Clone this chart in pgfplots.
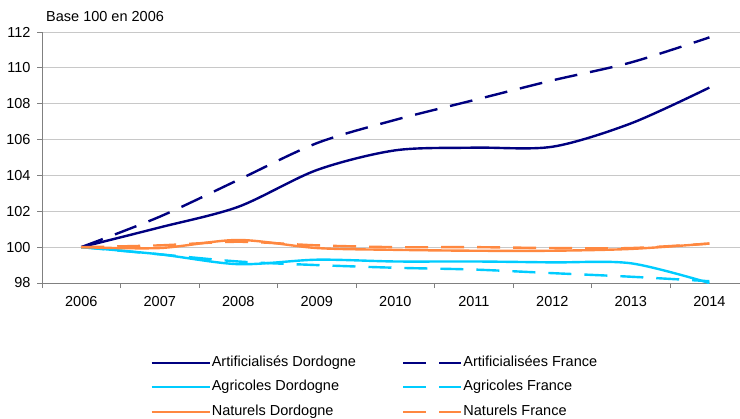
\documentclass[border=0pt]{standalone}
\usepackage{fontspec}
\setmainfont{Liberation Sans}
\usepackage{pgfplots}
\pgfplotsset{compat=1.18}
\definecolor{Navy}{RGB}{0,0,128}
\definecolor{Ciel}{RGB}{0,204,255}
\definecolor{Orange}{RGB}{255,136,64}
\definecolor{AxisGray}{RGB}{128,128,128}
\definecolor{GridGray}{RGB}{200,200,200}

\begin{document}
\begin{tikzpicture}[font=\fontsize{14.5bp}{17bp}\selectfont]
\path[use as bounding box] (-42bp,-136bp) rectangle (698bp,283bp);
\begin{axis}[
    at={(0,0)}, anchor=south west,
    scale only axis, width=698bp, height=251bp,
    xmin=-0.5, xmax=8.39, ymin=98, ymax=112,
    ytick={98,100,...,112},
    xtick={-0.5,0.5,...,7.5}, xticklabels={},
    extra x ticks={0,...,8},
    extra x tick labels={2006,2007,2008,2009,2010,2011,2012,2013,2014},
    extra x tick style={major tick length=0pt, grid=none},
    xticklabel style={yshift=-10bp},
    yticklabel style={xshift=-3bp},
    axis lines*=left,
    axis line style={AxisGray, line width=0.8bp},
    tick style={AxisGray, line width=0.8bp},
    tick align=outside, major tick length=5bp,
    ymajorgrids, grid style={GridGray, line width=0.8bp},
    /pgf/number format/assume math mode=true,
    legend columns=2,
    legend cell align=left,
    legend style={draw=none, fill=none, inner sep=0pt,
        at={(rel axis cs:0.155,-0.268)}, anchor=north west,
        nodes={inner xsep=1bp, inner ysep=5.5bp, text height=10.5bp, text depth=3bp},
        /tikz/every even column/.append style={column sep=45bp}},
    legend image code/.code={\draw[#1] (0bp,0bp) -- (58bp,0bp);},
]
\addplot[Navy, line width=2.4bp, smooth] coordinates {
    (0,100) (1,101.1) (2,102.25) (3,104.3) (4,105.4) (5,105.55) (6,105.6) (7,106.9) (8,108.9)};
\addlegendentry{Artificialisés Dordogne}
\addplot[Navy, line width=2.4bp, smooth, dash pattern=on 23bp off 13bp] coordinates {
    (0,100) (1,101.7) (2,103.75) (3,105.8) (4,107.1) (5,108.2) (6,109.3) (7,110.3) (8,111.7)};
\addlegendentry{Artificialisées France}
\addplot[Ciel, line width=2.4bp, smooth] coordinates {
    (0,100) (1,99.6) (2,99.05) (3,99.3) (4,99.2) (5,99.2) (6,99.15) (7,99.1) (8,98.0)};
\addlegendentry{Agricoles Dordogne}
\addplot[Ciel, line width=2.4bp, smooth, dash pattern=on 23bp off 13bp] coordinates {
    (0,100) (1,99.6) (2,99.2) (3,99.0) (4,98.85) (5,98.75) (6,98.55) (7,98.35) (8,98.1)};
\addlegendentry{Agricoles France}
\addplot[Orange, line width=2.4bp, smooth] coordinates {
    (0,100) (1,99.95) (2,100.4) (3,99.95) (4,99.85) (5,99.8) (6,99.8) (7,99.9) (8,100.2)};
\addlegendentry{Naturels Dordogne}
\addplot[Orange, line width=2.4bp, smooth, dash pattern=on 23bp off 13bp] coordinates {
    (0,100) (1,100.1) (2,100.3) (3,100.1) (4,100.0) (5,100.0) (6,99.95) (7,99.95) (8,100.2)};
\addlegendentry{Naturels France}
\end{axis}
\node[anchor=base west, inner sep=0pt] at (4bp,261bp) {Base 100 en 2006};
\end{tikzpicture}
\end{document}
